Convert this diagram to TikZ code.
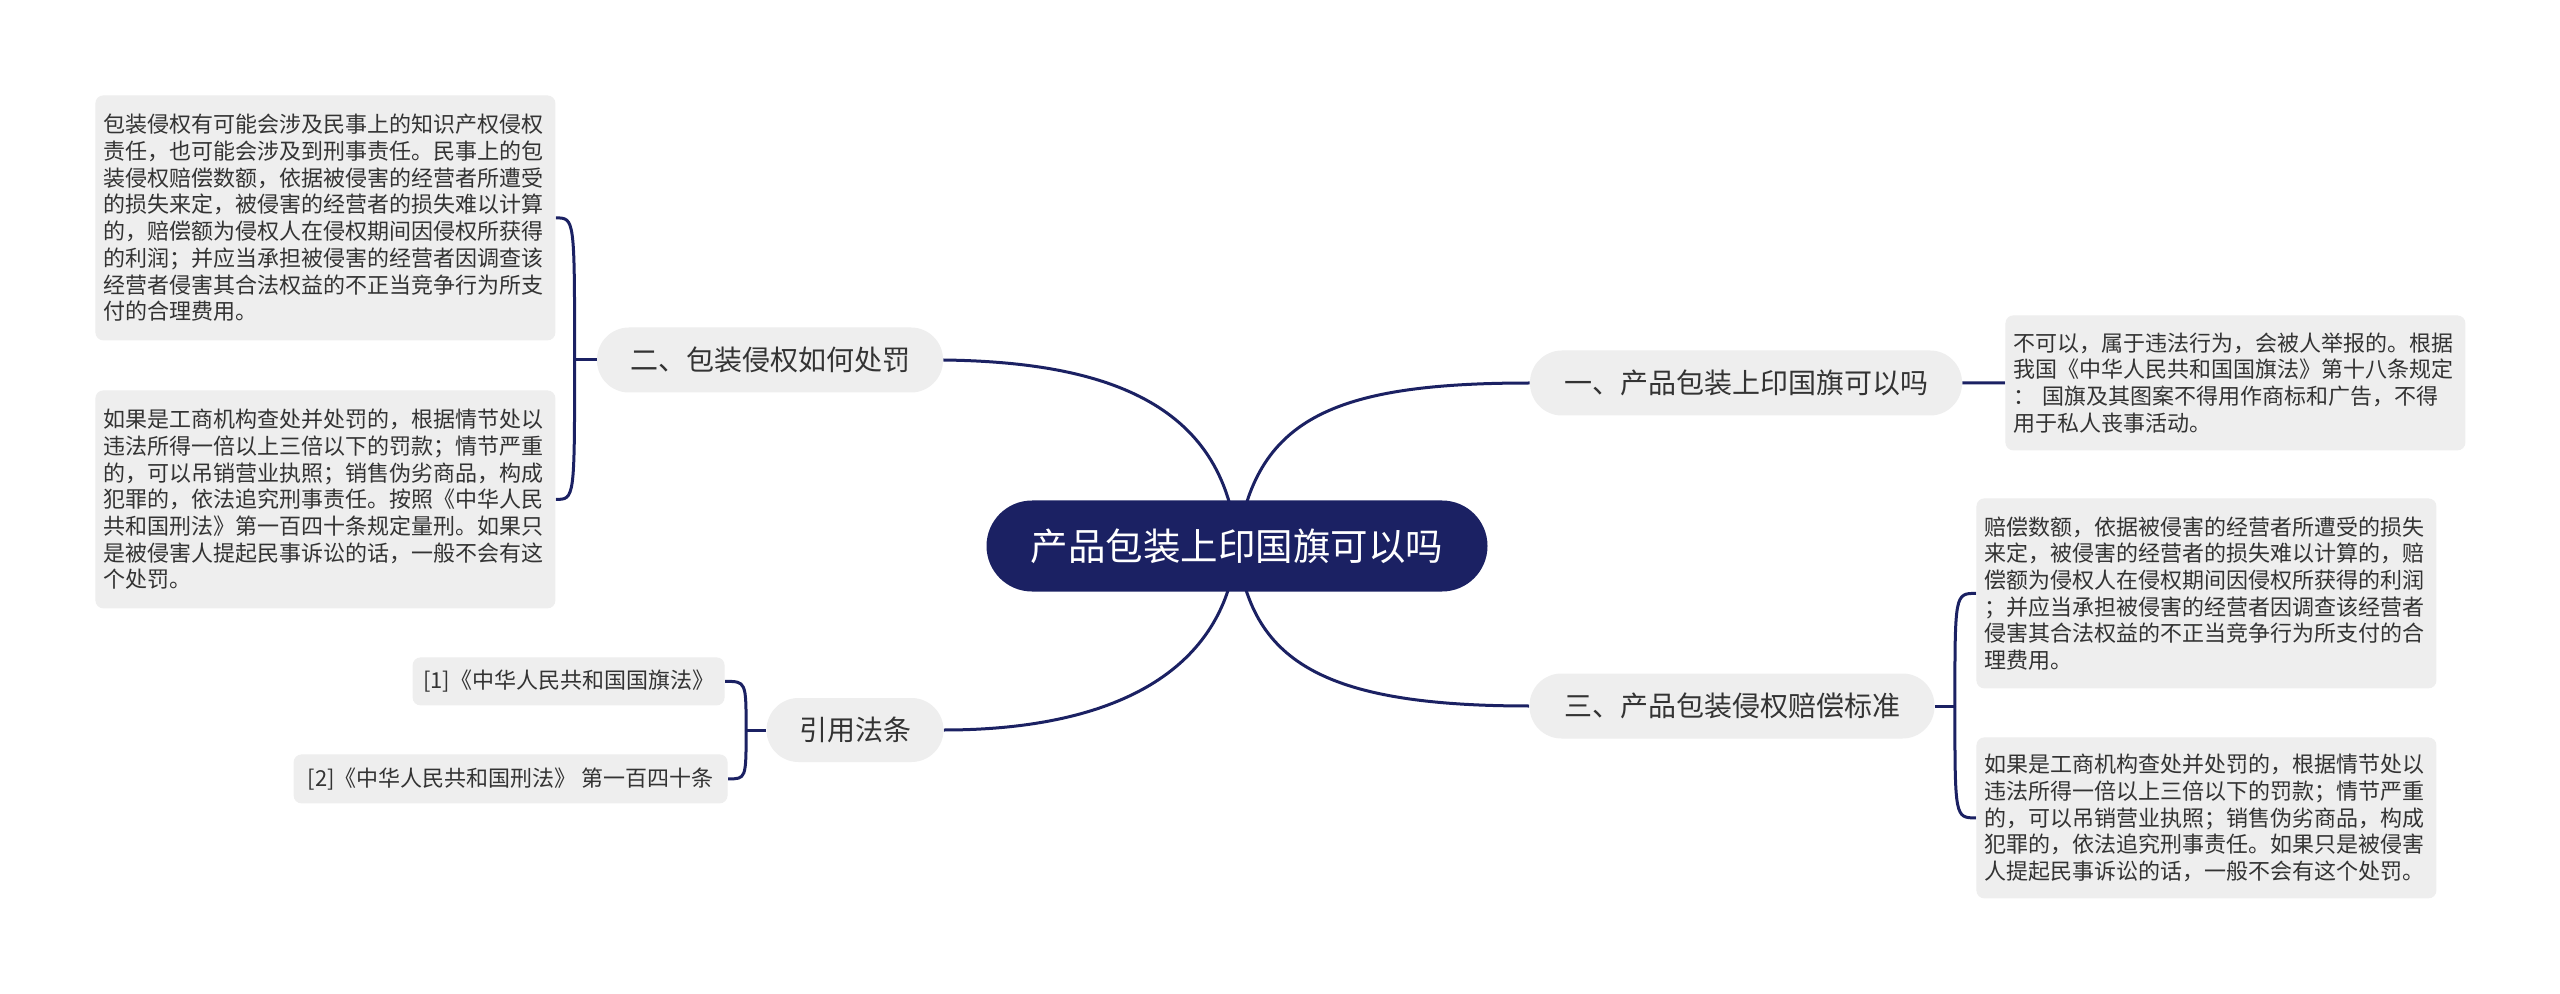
\documentclass[tikz,border=0pt]{standalone}
\usepackage{fontspec}
\setmainfont{Noto Sans CJK SC}
\usetikzlibrary{backgrounds}
\definecolor{navy}{RGB}{27,33,99}
\definecolor{boxgray}{RGB}{238,238,238}
\definecolor{txt}{RGB}{51,51,51}
\begin{document}
\begin{tikzpicture}[x=0.5pt,y=-0.5pt,
  conn/.style={draw=navy,line width=1.5pt},
  leaf/.style={fill=boxgray,rounded corners=4pt,text=txt,font=\fontsize{11}{13.35}\selectfont,align=left,anchor=north west,inner xsep=4pt,inner ysep=0pt,text width=222pt},
  refbox/.style={fill=boxgray,rounded corners=4pt,text=txt,font=\fontsize{11}{13.35}\selectfont,anchor=north east,inner xsep=0pt,inner ysep=0pt},
  branch/.style={fill=boxgray,rounded corners=16pt,text=txt,font=\fontsize{14}{16}\selectfont,minimum height=32.5pt,inner xsep=0pt,inner ysep=0pt},
  root/.style={fill=navy,rounded corners=22.75pt,text=white,font=\fontsize{18.75}{21}\selectfont,minimum width=250.5pt,minimum height=45.5pt,inner sep=0pt}
]
\useasboundingbox (0,0) rectangle (2560,994);

% central
\node[root] (c) at (1237,546) {产品包装上印国旗可以吗};

% branches
\node[branch,minimum width=216pt] (b1) at (1746,383) {一、产品包装上印国旗可以吗};
\node[branch,minimum width=173pt] (b2) at (770,360) {二、包装侵权如何处罚};
\node[branch,minimum width=202.5pt] (b3) at (1732,706) {三、产品包装侵权赔偿标准};
\node[branch,minimum width=88.5pt,minimum height=32pt] (b4) at (855,730) {引用法条};

% leaves
\node[leaf,minimum height=122.5pt] (l1) at (95,95) {包装侵权有可能会涉及民事上的知识产权侵权\\责任，也可能会涉及到刑事责任。民事上的包\\装侵权赔偿数额，依据被侵害的经营者所遭受\\的损失来定，被侵害的经营者的损失难以计算\\的，赔偿额为侵权人在侵权期间因侵权所获得\\的利润；并应当承担被侵害的经营者因调查该\\经营者侵害其合法权益的不正当竞争行为所支\\付的合理费用。};
\node[leaf,minimum height=109pt] (l2) at (95,390) {如果是工商机构查处并处罚的，根据情节处以\\违法所得一倍以上三倍以下的罚款；情节严重\\的，可以吊销营业执照；销售伪劣商品，构成\\犯罪的，依法追究刑事责任。按照《中华人民\\共和国刑法》第一百四十条规定量刑。如果只\\是被侵害人提起民事诉讼的话，一般不会有这\\个处罚。};
\node[leaf,minimum height=67.5pt] (r1) at (2005,315) {不可以，属于违法行为，会被人举报的。根据\\我国《中华人民共和国国旗法》第十八条规定\\：\ 国旗及其图案不得用作商标和广告，不得\\用于私人丧事活动。};
\node[leaf,minimum height=95pt] (r2) at (1976,498) {赔偿数额，依据被侵害的经营者所遭受的损失\\来定，被侵害的经营者的损失难以计算的，赔\\偿额为侵权人在侵权期间因侵权所获得的利润\\；并应当承担被侵害的经营者因调查该经营者\\侵害其合法权益的不正当竞争行为所支付的合\\理费用。};
\node[leaf,minimum height=80.5pt] (r3) at (1976,737) {如果是工商机构查处并处罚的，根据情节处以\\违法所得一倍以上三倍以下的罚款；情节严重\\的，可以吊销营业执照；销售伪劣商品，构成\\犯罪的，依法追究刑事责任。如果只是被侵害\\人提起民事诉讼的话，一般不会有这个处罚。};
\node[refbox,minimum width=156pt,minimum height=24pt] (f1) at (725,657) {[1]《中华人民共和国国旗法》};
\node[refbox,minimum width=217pt,minimum height=24.5pt] (f2) at (728,754) {[2]《中华人民共和国刑法》\ 第一百四十条};

\begin{scope}[on background layer]
\fill[white] (0,0) rectangle (2560,994);
% root to branches
\draw[conn] (c.center) .. controls (1255,420) and (1330,383) .. (b1.west);
\draw[conn] (c.center) .. controls (1225,400) and (1100,362) .. (b2.east);
\draw[conn] (c.center) .. controls (1250,660) and (1320,706) .. (b3.west);
\draw[conn] (c.center) .. controls (1225,680) and (1100,730) .. (b4.east);
% branch 1
\draw[conn] (b1.east) -- (r1.west);
% branch 2
\draw[conn] (b2.west) -- ++(-22,0) coordinate (s2);
\draw[conn] (s2) .. controls (s2 |- l1.east) .. (l1.east);
\draw[conn] (s2) .. controls (s2 |- l2.east) .. (l2.east);
% branch 3
\draw[conn] (b3.east) -- ++(20,0) coordinate (s3);
\draw[conn] (s3) .. controls (s3 |- r2.west) .. (r2.west);
\draw[conn] (s3) .. controls (s3 |- r3.west) .. (r3.west);
% branch 4
\draw[conn] (b4.west) -- ++(-20,0) coordinate (s4);
\draw[conn] (s4) .. controls (s4 |- f1.east) .. (f1.east);
\draw[conn] (s4) .. controls (s4 |- f2.east) .. (f2.east);
\end{scope}
\end{tikzpicture}
\end{document}
